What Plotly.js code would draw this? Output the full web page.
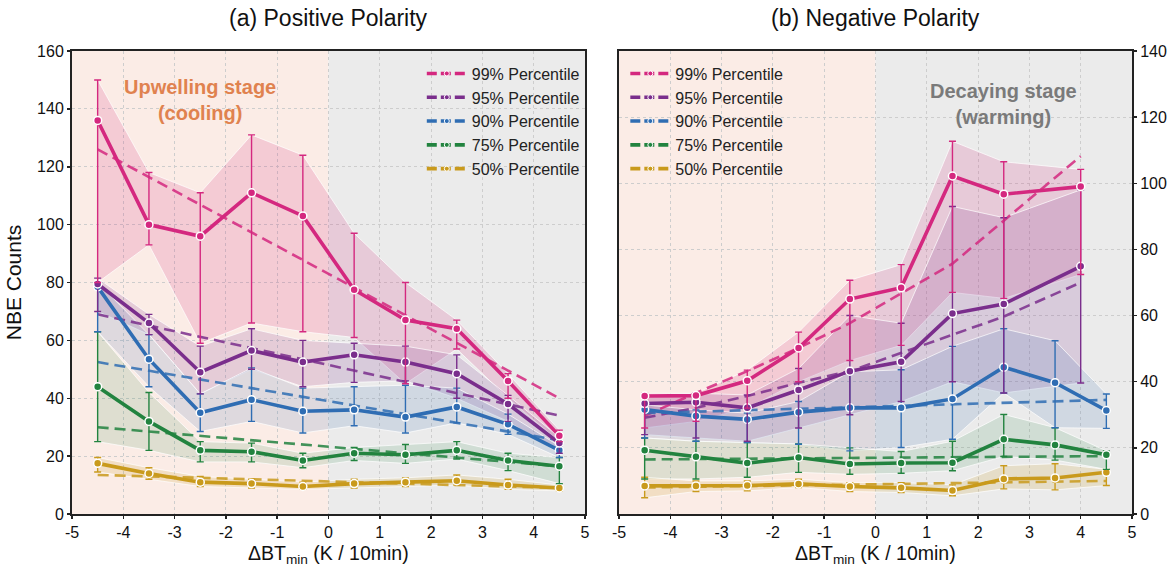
<!DOCTYPE html>
<html>
<head>
<meta charset="utf-8">
<script src="https://cdn.plot.ly/plotly-3.0.1.min.js"></script>
<style>html,body{margin:0;padding:0;background:#fff;}#chart{width:1172px;height:570px;}</style>
</head>
<body>
<div id="chart"></div>
<script>
// ---------- data ----------
const seriesNames = ["99% Percentile", "95% Percentile", "90% Percentile", "75% Percentile", "50% Percentile"];
const xTickVals = [-5, -4, -3, -2, -1, 0, 1, 2, 3, 4, 5];
const xTickText = ["-5", "-4", "-3", "-2", "-1", "0", "1", "2", "3", "4", "5"];

// (a) Positive polarity
const posX = [-4.5, -3.5, -2.5, -1.5, -0.5, 0.5, 1.5, 2.5, 3.5, 4.5];
const pos99 = [136, 100, 96, 111, 103, 77.5, 67, 64, 46, 27];
const pos99Up = [150, 118, 111, 131, 124, 97, 80, 67, 48.5, 29];
const pos99Lo = [80, 93, 59, 66, 63, 61, 45, 57, 40, 25];
const pos95 = [79.5, 66, 49, 56.5, 52.5, 55, 52.5, 48.5, 38, 24.5];
const pos95Up = [81.5, 69, 58, 64, 60, 59, 58, 55, 41, 26.5];
const pos95Lo = [70, 62, 41.5, 50, 44, 45.5, 46, 40, 32, 21];
const pos90 = [78.5, 53.5, 35, 39.5, 35.5, 36, 33.5, 37, 31, 22];
const pos90Up = [80, 62, 41.5, 50.5, 43.5, 44, 44.5, 43.5, 34.5, 23.5];
const pos90Lo = [63, 44, 28.5, 32, 28, 30.5, 28, 31.5, 27.5, 19.5];
const pos75 = [44, 32, 22, 21.5, 18.5, 21, 20.5, 22, 18.5, 16.5];
const pos75Up = [63, 42, 25, 24.5, 21, 23, 24, 25, 21, 19.5];
const pos75Lo = [25, 22, 18, 18, 16, 18.5, 17.5, 19, 15, 10.5];
const pos50 = [17.5, 14, 11, 10.5, 9.5, 10.5, 11, 11.5, 10, 9];
const pos50Up = [19.5, 16, 13, 12, 11, 12, 12.5, 13.5, 12, 10];
const pos50Lo = [14.5, 12, 9.5, 9, 8.5, 9, 9.5, 10, 8.5, 8];
const posFitX = [-4.5, 4.5];
const pos99Fit = [126, 40];
const pos95Fit = [69, 34];
const pos90Fit = [52.5, 25.5];
const pos75Fit = [30, 16.5];
const pos50Fit = [13.5, 9];

// (b) Negative polarity
const negXShort = [-4.5, -3.5, -2.5, -1.5, -0.5, 0.5, 1.5, 2.5, 4.0];
const negX = [-4.5, -3.5, -2.5, -1.5, -0.5, 0.5, 1.5, 2.5, 3.5, 4.5];
const neg99 = [35.7, 35.8, 40.3, 50.2, 65, 68.4, 102.2, 96.7, 99];
const neg99Up = [36.5, 36.5, 43.5, 55, 70.7, 75.4, 112.7, 106.5, 104.2];
const neg99Lo = [26, 28, 32, 40, 46.4, 51, 67, 65.2, 72.4];
const neg99Fit = [29.7, 36.6, 43.2, 50.2, 57.7, 66.7, 75.7, 88.7, 108.2];
const neg95 = [33.4, 33.8, 32.1, 37.5, 43.2, 46, 60.6, 63.5, 74.9];
const neg95Up = [36, 36.5, 36, 44, 60, 57.7, 93, 89.6, 98];
const neg95Lo = [24, 23, 22, 26, 30, 34, 40, 36.6, 39.6];
const neg95Fit = [29.1, 32.1, 35.7, 39.7, 43.2, 48.7, 54, 59.7, 70];
const neg90 = [31.6, 29.6, 28.6, 30.8, 32.1, 32.1, 34.8, 44.4, 39.7, 31.3];
const neg90Up = [33, 31.5, 30.5, 34, 43, 43.6, 50.7, 56, 52.4, 36.3];
const neg90Lo = [23, 22, 21.6, 21.1, 19.1, 20.1, 22.6, 36.6, 26.1, 25.9];
const neg75 = [19.3, 17.3, 15.4, 17.1, 15.1, 15.4, 15.5, 22.6, 20.9, 17.9];
const neg75Up = [23, 22, 21.6, 21.2, 20, 18.9, 22, 30.1, 26.1, 19.1];
const neg75Lo = [10.6, 10.6, 11.1, 12.6, 12, 12.3, 13.1, 17.4, 16.3, 13.5];
const neg50 = [8.5, 8.5, 8.6, 9.1, 8.3, 7.9, 7.1, 10.6, 10.9, 12.6];
const neg50Up = [11.1, 10, 10, 10.5, 9.5, 9.5, 8.8, 14.6, 15.2, 13.5];
const neg50Lo = [4.9, 6.8, 7, 8, 6.8, 6.5, 5.5, 7.6, 7.3, 8.6];
const negFitX = [-4.5, 4.5];
const neg90Fit = [30.5, 34.5];
const neg75Fit = [16.5, 17.5];
const neg50Fit = [8, 10];

// ---------- styling ----------
const colors = ["#d4287f", "#7a2e8c", "#2f6db3", "#22833f", "#c99a1c"];
const bandColors = ["rgba(212,40,127,0.17)", "rgba(122,46,140,0.17)", "rgba(47,109,179,0.14)", "rgba(34,131,63,0.13)", "rgba(201,154,28,0.17)"];
const FONT = "Liberation Sans, Arial, Helvetica, sans-serif";

const traces = [];
function band(xa, ya, x, up, lo, i) {
  traces.push({
    x: x.concat(x.slice().reverse()),
    y: up.concat(lo.slice().reverse()),
    xaxis: xa, yaxis: ya, type: "scatter", mode: "lines",
    fill: "toself", fillcolor: bandColors[i],
    line: {color: "rgba(255,255,255,0.7)", width: 1},
    hoverinfo: "skip", showlegend: false
  });
}
function fit(xa, ya, x, y, i) {
  traces.push({
    x: x, y: y, xaxis: xa, yaxis: ya, type: "scatter", mode: "lines",
    line: {color: colors[i], width: 2.6, dash: "11px,6px"},
    opacity: 0.85, showlegend: false
  });
}
function meanLine(xa, ya, x, m, up, lo, i) {
  traces.push({
    x: x, y: m, xaxis: xa, yaxis: ya, type: "scatter", mode: "lines+markers",
    line: {color: colors[i], width: 3.6},
    marker: {color: colors[i], size: 8, line: {color: "#ffffff", width: 1.5}},
    error_y: {type: "data", symmetric: false,
      array: up.map((u, k) => u - m[k]),
      arrayminus: lo.map((l, k) => m[k] - l),
      color: colors[i], thickness: 1.4, width: 3.5},
    showlegend: false
  });
}

const posSets = [
  [pos99, pos99Up, pos99Lo, pos99Fit],
  [pos95, pos95Up, pos95Lo, pos95Fit],
  [pos90, pos90Up, pos90Lo, pos90Fit],
  [pos75, pos75Up, pos75Lo, pos75Fit],
  [pos50, pos50Up, pos50Lo, pos50Fit]
];
const negSets = [
  [negXShort, neg99, neg99Up, neg99Lo, negXShort, neg99Fit],
  [negXShort, neg95, neg95Up, neg95Lo, negXShort, neg95Fit],
  [negX, neg90, neg90Up, neg90Lo, negFitX, neg90Fit],
  [negX, neg75, neg75Up, neg75Lo, negFitX, neg75Fit],
  [negX, neg50, neg50Up, neg50Lo, negFitX, neg50Fit]
];

posSets.forEach((s, i) => band("x", "y", posX, s[1], s[2], i));
negSets.forEach((s, i) => band("x2", "y2", s[0], s[2], s[3], i));
posSets.forEach((s, i) => fit("x", "y", posFitX, s[3], i));
negSets.forEach((s, i) => fit("x2", "y2", s[4], s[5], i));
for (let i = posSets.length - 1; i >= 0; i--) meanLine("x", "y", posX, posSets[i][0], posSets[i][1], posSets[i][2], i);
for (let i = negSets.length - 1; i >= 0; i--) meanLine("x2", "y2", negSets[i][0], negSets[i][1], negSets[i][2], negSets[i][3], i);

// legend-only entries
["legend", "legend2"].forEach((lg, j) => {
  seriesNames.forEach((name, i) => {
    traces.push({
      x: [null], y: [null], xaxis: j ? "x2" : "x", yaxis: j ? "y2" : "y",
      type: "scatter", mode: "lines+markers", name: name, legend: lg,
      line: {color: colors[i], width: 3.6, dash: "10px,4px"},
      marker: {color: colors[i], size: 5, line: {color: "#ffffff", width: 1}},
      showlegend: true
    });
  });
});

const axisCommon = {
  showline: true, linecolor: "#222", linewidth: 2, mirror: true,
  ticks: "outside", ticklen: 3, tickwidth: 1.5, tickcolor: "#222",
  showgrid: true, gridcolor: "#cdcdcd", griddash: "dot", gridwidth: 1,
  zeroline: false, tickfont: {family: FONT, size: 16, color: "#111"}
};

const layout = {
  width: 1172, height: 570,
  margin: {l: 72, r: 40, t: 51, b: 56},
  paper_bgcolor: "#ffffff", plot_bgcolor: "#ffffff",
  font: {family: FONT, color: "#111"},
  xaxis: Object.assign({}, axisCommon, {domain: [0, 0.48396], range: [-5, 5], tickvals: xTickVals, ticktext: xTickText, anchor: "y"}),
  xaxis2: Object.assign({}, axisCommon, {domain: [0.51604, 1], range: [-5, 5], tickvals: xTickVals, ticktext: xTickText, anchor: "y2"}),
  yaxis: Object.assign({}, axisCommon, {domain: [0, 1], range: [0, 160], dtick: 20, anchor: "x",
    title: {text: "NBE Counts", font: {family: FONT, size: 21, color: "#111"}, standoff: 10}}),
  yaxis2: Object.assign({}, axisCommon, {domain: [0, 1], range: [0, 140], dtick: 20, anchor: "x2", side: "right"}),
  legend: {x: 0.33, y: 0.988, xanchor: "left", yanchor: "top", bgcolor: "rgba(0,0,0,0)", borderwidth: 0,
    font: {family: FONT, size: 16, color: "#222"}, tracegroupgap: 0, itemwidth: 40},
  legend2: {x: 0.522, y: 0.988, xanchor: "left", yanchor: "top", bgcolor: "rgba(0,0,0,0)", borderwidth: 0,
    font: {family: FONT, size: 16, color: "#222"}, tracegroupgap: 0, itemwidth: 40},
  shapes: [
    {type: "rect", xref: "x", yref: "y domain", x0: -5, x1: 0, y0: 0, y1: 1, fillcolor: "#fbece6", line: {width: 0}, layer: "below"},
    {type: "rect", xref: "x", yref: "y domain", x0: 0, x1: 5, y0: 0, y1: 1, fillcolor: "#ebebeb", line: {width: 0}, layer: "below"},
    {type: "rect", xref: "x2", yref: "y2 domain", x0: -5, x1: 0, y0: 0, y1: 1, fillcolor: "#fbece6", line: {width: 0}, layer: "below"},
    {type: "rect", xref: "x2", yref: "y2 domain", x0: 0, x1: 5, y0: 0, y1: 1, fillcolor: "#ebebeb", line: {width: 0}, layer: "below"}
  ],
  annotations: [
    {text: "(a) Positive Polarity", xref: "paper", yref: "paper", x: 0.242, y: 1.072, xanchor: "center", yanchor: "middle", showarrow: false, font: {family: FONT, size: 23, color: "#111"}},
    {text: "(b) Negative Polarity", xref: "paper", yref: "paper", x: 0.758, y: 1.072, xanchor: "center", yanchor: "middle", showarrow: false, font: {family: FONT, size: 23, color: "#111"}},
    {text: "ΔBT<sub>min</sub> (K / 10min)", xref: "paper", yref: "paper", x: 0.242, y: -0.118, xanchor: "center", yanchor: "bottom", showarrow: false, font: {family: FONT, size: 19.5, color: "#111"}},
    {text: "ΔBT<sub>min</sub> (K / 10min)", xref: "paper", yref: "paper", x: 0.758, y: -0.118, xanchor: "center", yanchor: "bottom", showarrow: false, font: {family: FONT, size: 19.5, color: "#111"}},
    {text: "<b>Upwelling stage<br>(cooling)</b>", xref: "x", yref: "y", x: -2.5, y: 143, xanchor: "center", yanchor: "middle", showarrow: false, font: {family: FONT, size: 20, color: "#e0824f"}},
    {text: "<b>Decaying stage<br>(warming)</b>", xref: "x2", yref: "y2", x: 2.5, y: 124, xanchor: "center", yanchor: "middle", showarrow: false, font: {family: FONT, size: 20, color: "#7a7a7a"}}
  ],
  showlegend: true
};

Plotly.newPlot("chart", traces, layout, {displayModeBar: false, staticPlot: true});
</script>
</body>
</html>
